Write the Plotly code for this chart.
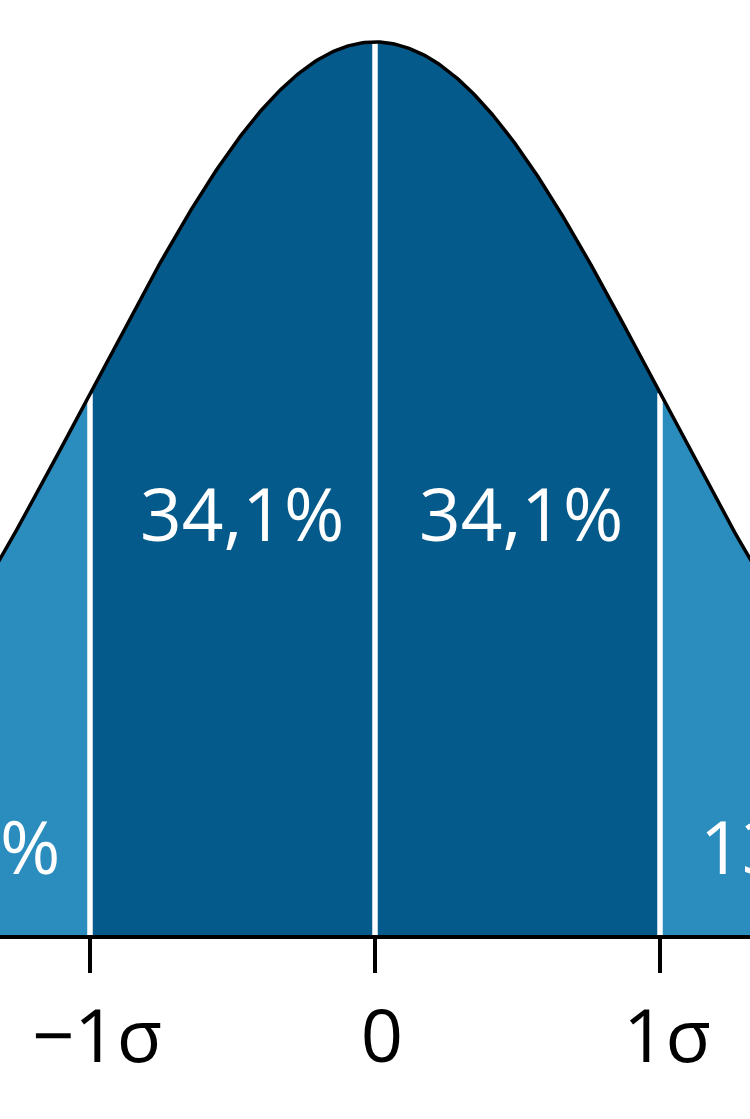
import numpy as np
import plotly.graph_objects as go

# bandas de la distribución normal (en unidades de sigma)
bordes = [-2, -1, 0, 1, 2]
porcentajes = ["13,6%", "34,1%", "34,1%", "13,6%"]
colores = ["#2b8cbe", "#055a8c", "#055a8c", "#2b8cbe"]
pos_etiqueta_x = [-1.462, -0.465, 0.512, 1.497]
pos_etiqueta_y = [0.10, 0.473, 0.473, 0.10]
separadores = [-1, 0, 1]
ticks_vals = [-1, 0, 1]
ticks_texto = ["−1σ", "0", "1σ"]

rango_x = [-375 / 285, 375 / 285]


def densidad(x):
    # curva normal estándar escalada a altura 1 en la media
    return np.exp(-0.5 * np.asarray(x) ** 2)


fig = go.Figure()

for i in range(len(porcentajes)):
    xs = np.linspace(bordes[i], bordes[i + 1], 200)
    fig.add_trace(
        go.Scatter(
            x=np.concatenate([xs, [bordes[i + 1], bordes[i]]]),
            y=np.concatenate([densidad(xs), [0, 0]]),
            fill="toself",
            fillcolor=colores[i],
            mode="lines",
            line=dict(width=0),
            hoverinfo="skip",
            showlegend=False
        )
    )

for s in separadores:
    fig.add_trace(
        go.Scatter(
            x=[s, s],
            y=[0, float(densidad(s))],
            mode="lines",
            line=dict(color="white", width=5.5),
            hoverinfo="skip",
            showlegend=False
        )
    )

xc = np.linspace(-2, 2, 600)
fig.add_trace(
    go.Scatter(
        x=xc,
        y=densidad(xc),
        mode="lines",
        line=dict(color="black", width=3.5),
        hoverinfo="skip",
        showlegend=False
    )
)

# las etiquetas de los extremos quedan fuera del rango, se usan coordenadas de papel
ancho = rango_x[1] - rango_x[0]
for txt, px_, py_ in zip(porcentajes, pos_etiqueta_x, pos_etiqueta_y):
    fig.add_annotation(
        x=(px_ - rango_x[0]) / ancho,
        xref="paper",
        y=py_,
        text=txt,
        showarrow=False,
        font=dict(family="Open Sans", size=73, color="white"),
        xanchor="center",
        yanchor="middle"
    )

fig.update_layout(
    width=750,
    height=1119,
    margin=dict(l=0, r=0, t=0, b=184),
    paper_bgcolor="white",
    plot_bgcolor="white",
    font=dict(family="Open Sans", size=72, color="black"),
    xaxis=dict(
        range=rango_x,
        showgrid=False,
        zeroline=False,
        showline=True,
        linecolor="black",
        linewidth=4,
        ticks="outside",
        ticklen=34,
        tickwidth=3.5,
        tickcolor="black",
        tickvals=ticks_vals,
        ticktext=ticks_texto,
        ticklabelshift=7,
        ticklabelstandoff=0,
        tickfont=dict(family="Open Sans", size=74, color="black")
    ),
    yaxis=dict(
        range=[0, 935 / 893],
        visible=False
    )
)

fig.write_html(
    "out.html",
    config={"displayModeBar": False},
    post_script="document.body.style.margin='0';"
)
